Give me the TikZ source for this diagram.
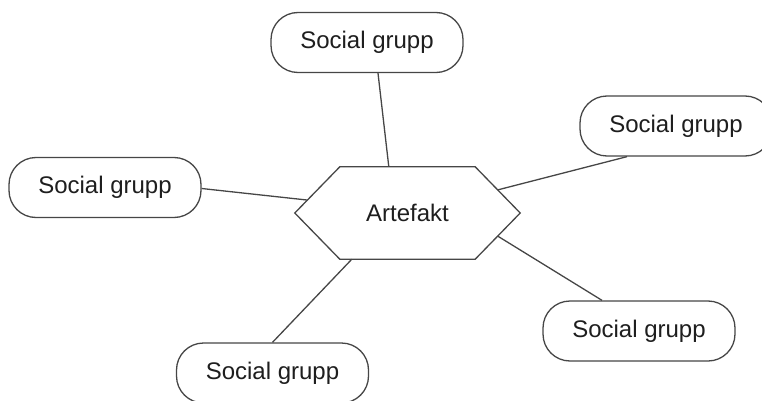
\documentclass[tikz,border=0pt]{standalone}
\usepackage{fontspec}
\setmainfont{Liberation Sans}
\usetikzlibrary{calc}
\definecolor{edge}{RGB}{70,70,70}
\definecolor{ink}{RGB}{30,30,30}
\begin{document}
\begin{tikzpicture}[x=1pt,y=-1pt,
  grp/.style={draw=edge, line width=1.3pt, rounded corners=27pt, fill=white,
    minimum width=192pt, minimum height=60pt, inner sep=0pt, text=ink,
    font=\fontsize{24}{28}\selectfont},
  core/.style={minimum width=135pt, minimum height=92pt, inner sep=0pt, text=ink,
    font=\fontsize{24}{28}\selectfont},
  link/.style={draw=edge, line width=1.3pt}]
\useasboundingbox (0,0) rectangle (762,401);

% central hexagon: an invisible box plus its six drawn corners
\node[core] (art) at (407.5,213) {};
\coordinate (hl) at ($(art.west)+(-45,0)$);
\coordinate (hr) at ($(art.east)+(45,0)$);
\draw[link, line join=miter] (art.north west) -- (art.north east) -- (hr)
  -- (art.south east) -- (art.south west) -- (hl) -- cycle;
\node[core] at (art.center) {Artefakt};

% the five groups
\node[grp] (g1) at (367,42.5) {Social grupp};
\node[grp] (g2) at (676,126) {Social grupp};
\node[grp] (g3) at (105,187.5) {Social grupp};
\node[grp] (g4) at (639,331) {Social grupp};
\node[grp] (g5) at (272.5,373) {Social grupp};

% spokes from the groups to the hexagon
\draw[link] ([xshift=11pt]g1.south) -- ($(art.north west)+(49,0)$);
\draw[link] ([xshift=-49pt]g2.south) -- ($(art.north east)!0.5!(hr)$);
\draw[link] ([yshift=-1pt]g3.east) -- ($(art.north west)!0.72!(hl)$);
\draw[link] ([xshift=-37pt]g4.north) -- ($(art.south east)!0.5!(hr)$);
\draw[link] (g5.north) -- ($(art.south west)+(12,0)$);
\end{tikzpicture}
\end{document}
